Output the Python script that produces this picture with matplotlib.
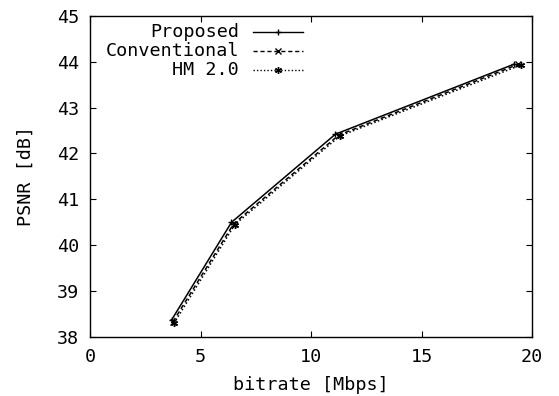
import matplotlib
matplotlib.use("Agg")
import matplotlib.pyplot as plt

# rate-distortion points
BITRATE = {
    "Proposed":     [3.70, 6.40, 11.10, 19.20],
    "Conventional": [3.75, 6.50, 11.25, 19.35],
    "HM 2.0":       [3.80, 6.55, 11.30, 19.50],
}
PSNR = {
    "Proposed":     [38.38, 40.50, 42.42, 43.95],
    "Conventional": [38.33, 40.47, 42.40, 43.94],
    "HM 2.0":       [38.30, 40.45, 42.38, 43.93],
}
STYLE = {
    "Proposed":     dict(ls="-", marker="+", ms=5),
    "Conventional": dict(ls=(0, (3, 2)), marker="x", ms=4),
    "HM 2.0":       dict(ls=(0, (1, 1.5)), marker=(6, 2, 0), ms=5),
}
X_TICKS = [0, 5, 10, 15, 20]
Y_TICKS = [38, 39, 40, 41, 42, 43, 44, 45]

# gnuplot's fixed-cell gothic font -> a sans monospace family
plt.rcParams["font.family"] = ["DejaVu Sans Mono"]
FS = 13.2

fig = plt.figure(figsize=(5.59, 3.96), dpi=100)
ax = fig.add_axes([0.161, 0.149, 0.791, 0.811])

for name in BITRATE:
    ax.plot(BITRATE[name], PSNR[name], color="k", lw=1.1, mew=1.0, **STYLE[name])

ax.set_xlim(0, 20); ax.set_ylim(38, 45)
ax.set_xticks(X_TICKS); ax.set_yticks(Y_TICKS)
ax.tick_params(direction="in", length=4, width=0.8, top=True, right=True, labelsize=FS)
ax.tick_params(axis="x", pad=8)
ax.tick_params(axis="y", pad=8)
for s in ax.spines.values():
    s.set_linewidth(1.0)
ax.set_xlabel("bitrate [Mbps]", fontsize=FS, labelpad=7)
ax.set_ylabel("PSNR [dB]", fontsize=FS, labelpad=16)

# gnuplot-style key: right-aligned labels with the sample to their right
rows = [0.950, 0.891, 0.832]
for name, yy in zip(BITRATE, rows):
    ax.text(0.337, yy, name, transform=ax.transAxes, ha="right", va="center", fontsize=FS)
    ax.plot([0.369, 0.482], [yy, yy], transform=ax.transAxes, color="k", lw=1.0,
            ls=STYLE[name]["ls"], clip_on=False)
    ax.plot([0.4255], [yy], transform=ax.transAxes, color="k", ls="none", mew=1.0,
            marker=STYLE[name]["marker"], ms=STYLE[name]["ms"], clip_on=False)

fig.savefig("out.png", dpi=100)
